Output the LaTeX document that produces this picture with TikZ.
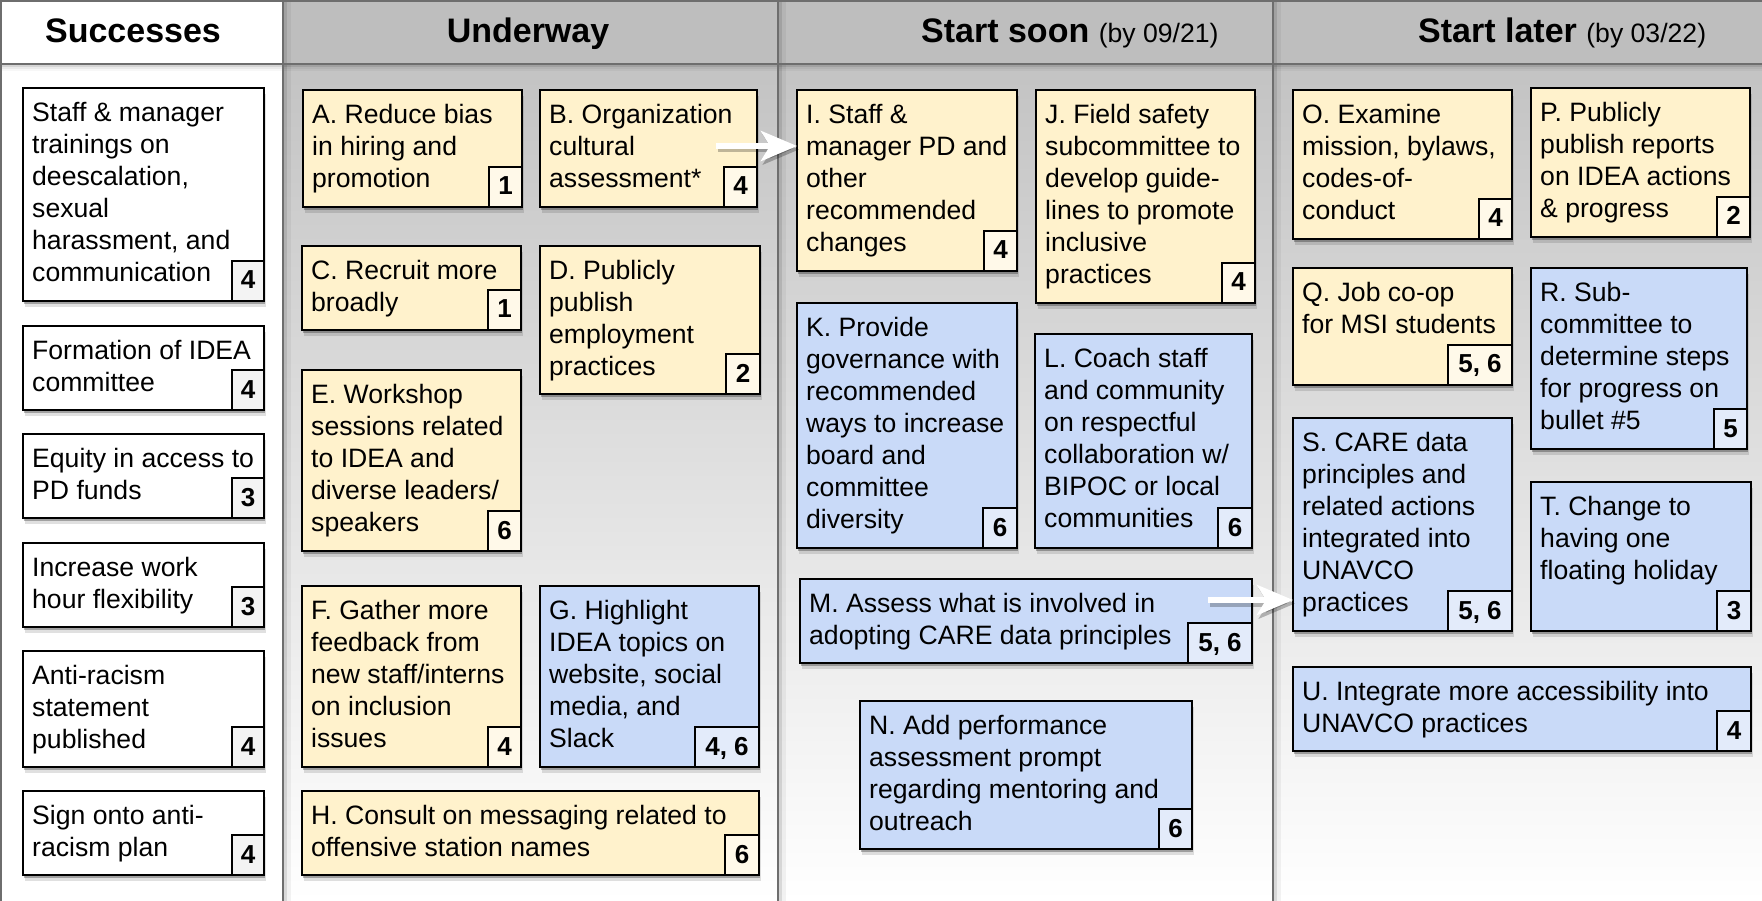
\documentclass[tikz,border=0pt]{standalone}
\usepackage{fontspec}
\setmainfont{Liberation Sans}
\usetikzlibrary{fit,calc,shadows,arrows.meta}
\definecolor{ylw}{HTML}{FFF2CC}
\definecolor{ylwb}{HTML}{FFF9E9}
\definecolor{blu}{HTML}{C9DAF8}
\definecolor{blub}{HTML}{E3EBFA}
\definecolor{wht}{HTML}{FFFFFF}
\definecolor{whtb}{HTML}{F3F3F3}
\definecolor{hdrgray}{HTML}{BEBEBE}
\definecolor{bodytop}{HTML}{C3C3C3}
\definecolor{gridline}{HTML}{6E6E6E}
\tikzset{
  card/.style={draw=black, line width=2pt, fill=#1, inner sep=0pt, outer sep=0pt,
    drop shadow={shadow xshift=1pt, shadow yshift=-3pt, opacity=0.28, fill=black},
    drop shadow={shadow xshift=2pt, shadow yshift=-6pt, opacity=0.12, fill=black}},
  badge/.style={draw=black, line width=2pt, fill=#1b, inner sep=0pt, outer sep=0pt,
    minimum height=40pt, text height=19pt, text depth=3pt,
    font=\fontsize{26}{30}\selectfont\bfseries},
  txt/.style={inner sep=0pt, align=left, font=\fontsize{26.6}{32}\selectfont, anchor=north west},
  hdr/.style={inner sep=0pt, font=\fontsize{34}{40}\selectfont\bfseries},
  warrow/.style={draw=white, line width=6pt, -{Stealth[length=36pt,width=30pt,inset=9pt,fill=white]}},
  sarrow/.style={draw=black, opacity=0.25, line width=6pt, -{Stealth[length=36pt,width=30pt,inset=9pt,fill=black]},
    transform canvas={xshift=2pt,yshift=-3.5pt}},
}
% name, x1, y1, x2, y2, colour, badge width, text, badge
\newcommand\card[9]{%
  \node[card=#6, fit={(#2,#3) (#4,#5)}] (#1) {};
  \node[txt] (#1t) at ($(#1.north west)+(9,9)$) {\rule{0pt}{24pt}#8};
  \node[badge=#6, minimum width=#7, anchor=south east] (#1b) at (#1.south east) {#9};
}
\begin{document}
\begin{tikzpicture}[x=1pt,y=-1pt]
\useasboundingbox (0,0) rectangle (1762,901);
% backgrounds
\fill[white] (0,0) rectangle (1762,901);
\fill[wht] (0,0) rectangle (283,901);
\fill[hdrgray] (283,0) rectangle (1762,64);
\shade[top color=bodytop, bottom color=white] (283,64) rectangle (1762,901);
% header shadow
\foreach \k/\o in {1/0.14,3/0.09,5/0.05,7/0.03} {
  \fill[black, opacity=\o] (0,64) rectangle (1762,64+\k);
}
% divider shadows
\foreach \xx in {283,778,1273} {
  \fill[black, opacity=0.10] (\xx,0) rectangle (\xx+4,901);
  \fill[black, opacity=0.05] (\xx,0) rectangle (\xx+8,901);
}
% grid lines
\draw[gridline, line width=2.5pt] (1.2,901) -- (1.2,1.2) -- (1762,1.2);
\draw[gridline, line width=2pt] (0,64) -- (1762,64);
\foreach \xx in {283,778,1273} {
  \draw[gridline, line width=2pt] (\xx,0) -- (\xx,901);
}
% headers
\node[hdr, anchor=base] (hs) at (133,43) {Successes};
\node[hdr, anchor=base] (hu) at (528,43) {Underway};
\node[hdr, anchor=base west] (hso) at (921,43) {Start soon\ {\fontsize{26.6}{30}\selectfont\mdseries(by 09/21)}};
\node[hdr, anchor=base west] (hsl) at (1418,43) {Start later\ {\fontsize{26.6}{30}\selectfont\mdseries(by 03/22)}};
% Successes
\card{s1}{23}{88}{264}{301}{wht}{32pt}{Staff \& manager\\trainings on\\deescalation,\\sexual\\harassment, and\\communication}{4}
\card{s2}{23}{326}{264}{410}{wht}{32pt}{Formation of IDEA\\committee}{4}
\card{s3}{23}{434}{264}{518}{wht}{32pt}{Equity in access to\\PD funds}{3}
\card{s4}{23}{543}{264}{627}{wht}{32pt}{Increase work\\hour flexibility}{3}
\card{s5}{23}{651}{264}{767}{wht}{32pt}{Anti-racism\\statement\\published}{4}
\card{s6}{23}{791}{264}{875}{wht}{32pt}{Sign onto anti-\\racism plan}{4}
% Underway
\card{A}{303}{90}{522}{207}{ylw}{33pt}{A. Reduce bias\\in hiring and\\promotion}{1}
\card{B}{540}{90}{757}{207}{ylw}{33pt}{B. Organization\\cultural\\assessment*}{4}
\card{C}{302}{246}{521}{330}{ylw}{33pt}{C. Recruit more\\broadly}{1}
\card{D}{540}{246}{760}{394}{ylw}{34pt}{D. Publicly\\publish\\employment\\practices}{2}
\card{E}{302}{370}{521}{551}{ylw}{33pt}{E. Workshop\\sessions related\\to IDEA and\\diverse leaders/\\speakers}{6}
\card{F}{302}{586}{521}{767}{ylw}{33pt}{F. Gather more\\feedback from\\new staff/interns\\on inclusion\\issues}{4}
\card{G}{540}{586}{759}{767}{blu}{64pt}{G. Highlight\\IDEA topics on\\website, social\\media, and\\Slack}{4, 6}
\card{H}{302}{791}{759}{875}{ylw}{34pt}{H. Consult on messaging related to\\offensive station names}{6}
% Start soon
\card{I}{797}{90}{1017}{271}{ylw}{33pt}{I. Staff \&\\manager PD and\\other\\recommended\\changes}{4}
\card{J}{1036}{90}{1255}{303}{ylw}{33pt}{J. Field safety\\subcommittee to\\develop guide-\\lines to promote\\inclusive\\practices}{4}
\card{K}{797}{303}{1017}{548}{blu}{34pt}{K. Provide\\governance with\\recommended\\ways to increase\\board and\\committee\\diversity}{6}
\card{L}{1035}{334}{1252}{548}{blu}{34pt}{L. Coach staff\\and community\\on respectful\\collaboration w/\\BIPOC or local\\communities}{6}
\card{M}{800}{579}{1252}{663}{blu}{64pt}{M. Assess what is involved in\\adopting CARE data principles}{5, 6}
\card{N}{860}{701}{1192}{849}{blu}{33pt}{N. Add performance\\assessment prompt\\regarding mentoring and\\outreach}{6}
% Start later
\card{O}{1293}{90}{1512}{239}{ylw}{33pt}{O. Examine\\mission, bylaws,\\codes-of-\\conduct}{4}
\card{P}{1531}{88}{1750}{237}{ylw}{33pt}{P. Publicly\\publish reports\\on IDEA actions\\\& progress}{2}
\card{Q}{1293}{268}{1512}{385}{ylw}{64pt}{Q. Job co-op\\for MSI students}{5, 6}
\card{R}{1531}{268}{1747}{449}{blu}{33pt}{R. Sub-\\committee to\\determine steps\\for progress on\\bullet \#5}{5}
\card{S}{1293}{418}{1512}{631}{blu}{64pt}{S. CARE data\\principles and\\related actions\\integrated into\\UNAVCO\\practices}{5, 6}
\card{T}{1531}{482}{1751}{631}{blu}{34pt}{T. Change to\\having one\\floating holiday}{3}
\card{U}{1293}{667}{1751}{751}{blu}{34pt}{U. Integrate more accessibility into\\UNAVCO practices}{4}
% arrows
\coordinate (b2i) at (716,146);
\coordinate (m2s) at (1208,600);
\draw[sarrow] (b2i) -- (I.west |- b2i);
\draw[warrow] (b2i) -- (I.west |- b2i);
\draw[sarrow] (m2s) -- (S.west |- m2s);
\draw[warrow] (m2s) -- (S.west |- m2s);
\end{tikzpicture}
\end{document}
